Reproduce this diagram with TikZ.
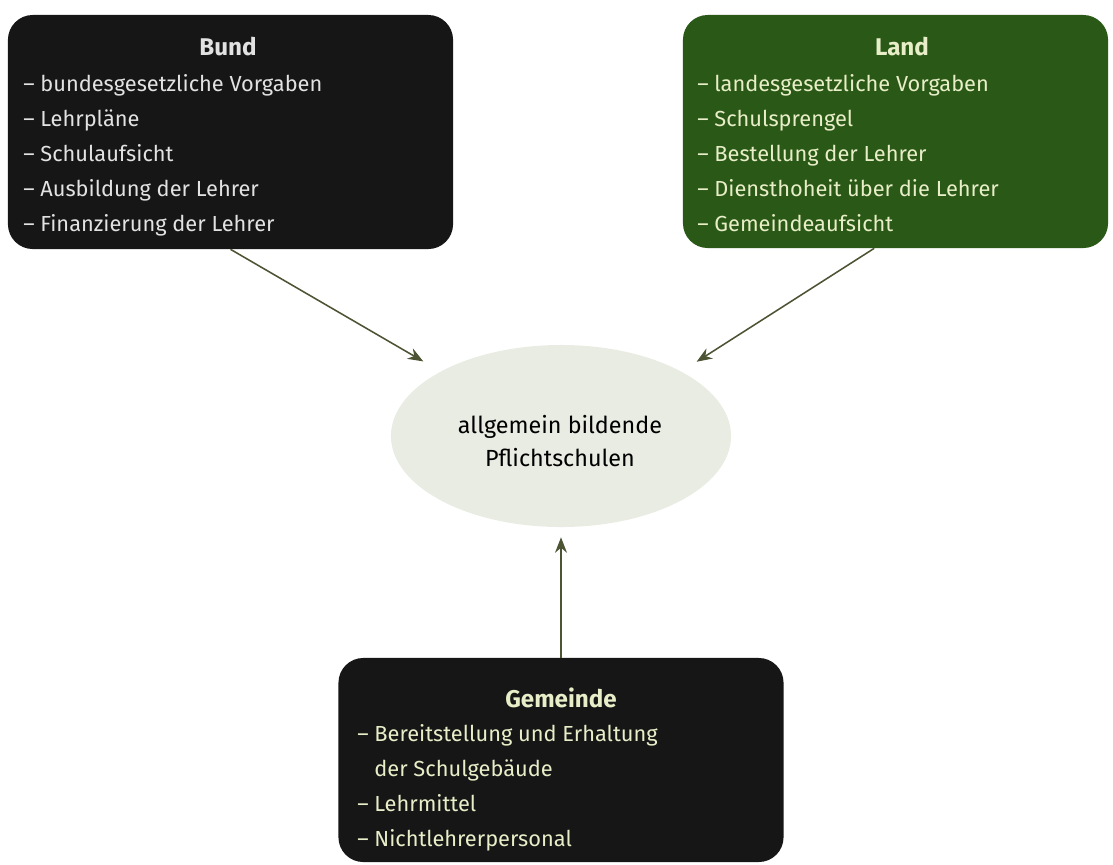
\documentclass[tikz,border=0pt]{standalone}
\usepackage{fontspec}
\setmainfont{Fira Sans}
\usetikzlibrary{positioning,calc}
\usetikzlibrary{arrows.meta,shapes.geometric}
\definecolor{BundBlack}{RGB}{22,22,22}
\definecolor{LandGreen}{RGB}{42,88,22}
\definecolor{PaleText}{RGB}{232,238,200}
\definecolor{GreyText}{RGB}{226,226,226}
\definecolor{BlobFill}{RGB}{233,236,226}
\definecolor{ArrowOlive}{RGB}{76,84,52}
\tikzset{
  level/.style={rectangle,rounded corners=0.62cm,inner sep=0pt,draw=none},
  head/.style={font=\fontsize{17.2}{20}\selectfont\bfseries,inner sep=0pt},
  items/.style={font=\fontsize{15.5}{24.9}\selectfont,align=left,inner sep=0pt,anchor=north west},
  school/.style={ellipse,fill=BlobFill,inner sep=0pt,minimum width=8.5cm,minimum height=4.55cm},
  schooltext/.style={font=\fontsize{16.6}{23.4}\selectfont,align=center,inner sep=0pt},
}
\tikzset{flow/.style={draw=ArrowOlive,line width=1.1pt,-{Stealth[length=11pt,width=8.5pt]}}}

\begin{document}
\begin{tikzpicture}[x=0.025cm,y=-0.025cm]
\useasboundingbox (0,0) rectangle (1113,864);
% the three levels
\node[level,fill=BundBlack,minimum width=11.125cm,minimum height=5.85cm] (bund) at (230.5,132) {};
\node[level,fill=LandGreen,minimum width=10.625cm,minimum height=5.825cm] (land) at (895.5,131.5) {};
\node[level,fill=BundBlack,minimum width=11.125cm,minimum height=5.1cm] (gemeinde) at (561,760) {};
% titles
\node[head,text=GreyText] (bundtitle) at (228,47) {Bund};
\node[head,text=PaleText] (landtitle) at (902,47) {Land};
\node[head,text=PaleText] (gemtitle) at (561,698) {Gemeinde};
% duties
\node[items,text=GreyText] (bundlist) at (23,74) {– bundesgesetzliche Vorgaben\\– Lehrpläne\\– Schulaufsicht\\– Ausbildung der Lehrer\\– Finanzierung der Lehrer};
\node[items,text=PaleText] (landlist) at (697,74) {– landesgesetzliche Vorgaben\\– Schulsprengel\\– Bestellung der Lehrer\\– Diensthoheit über die Lehrer\\– Gemeindeaufsicht};
\node[items,text=PaleText] (gemlist) at (357,724) {– Bereitstellung und Erhaltung\\\phantom{– }der Schulgebäude\\– Lehrmittel\\– Nichtlehrerpersonal};
% school
\node[school] (schule) at (561,436) {};
\node[schooltext] (schultext) at (560,441) {allgemein bildende\\Pflichtschulen};
\draw[flow,shorten >=0.5cm] (bund.south) -- (schule.north west);
\draw[flow,shorten >=0.45cm] ($(land.south west)!0.45!(land.south east)$) -- (schule.north east);
\draw[flow,shorten >=0.25cm] (gemeinde.north) -- (schule.south);
\end{tikzpicture}
\end{document}
